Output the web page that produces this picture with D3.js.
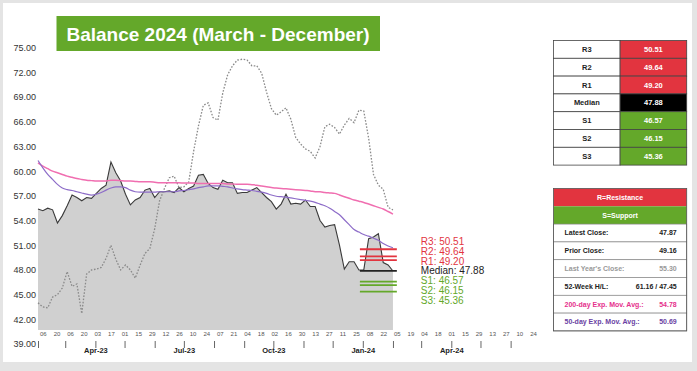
<!DOCTYPE html>
<html>
<head>
<meta charset="utf-8">
<script src="https://cdn.jsdelivr.net/npm/d3@7"></script>
<style>
  body { margin: 0; background: #fff; }
  svg { display: block; font-family: Arial, "Liberation Sans", sans-serif; }
</style>
</head>
<body>
<div id="chart"></div>
<script>
// Sample dates (every 5 days) shared by all series
const dates = [
  "2023-02-01","2023-02-06","2023-02-11","2023-02-16","2023-02-21","2023-02-26","2023-03-03","2023-03-08",
  "2023-03-13","2023-03-18","2023-03-23","2023-03-28","2023-04-02","2023-04-07","2023-04-12","2023-04-17",
  "2023-04-22","2023-04-27","2023-05-02","2023-05-07","2023-05-12","2023-05-17","2023-05-22","2023-05-27",
  "2023-06-01","2023-06-06","2023-06-11","2023-06-16","2023-06-21","2023-06-26","2023-07-01","2023-07-06",
  "2023-07-11","2023-07-16","2023-07-21","2023-07-26","2023-07-31","2023-08-05","2023-08-10","2023-08-15",
  "2023-08-20","2023-08-25","2023-08-30","2023-09-04","2023-09-09","2023-09-14","2023-09-19","2023-09-24",
  "2023-09-29","2023-10-04","2023-10-09","2023-10-14","2023-10-19","2023-10-24","2023-10-29","2023-11-03",
  "2023-11-08","2023-11-13","2023-11-18","2023-11-23","2023-11-28","2023-12-03","2023-12-08","2023-12-13",
  "2023-12-18","2023-12-23","2023-12-28","2024-01-02","2024-01-07","2024-01-12","2024-01-17","2024-01-22",
  "2024-01-27","2024-02-01"
];

// Current contract settlement
const price = [
  55.4, 55.2, 55.5, 55.3, 53.7, 54.6, 55.8, 57.1, 56.8, 56.4, 56.8, 56.7, 57.3, 57.9, 58.3, 61.1,
  59.8, 58.8, 57.2, 55.9, 56.5, 56.8, 57.7, 57.9, 56.8, 57.5, 57.5, 57.6, 57.4, 58.0, 57.5, 57.9,
  58.2, 59.5, 59.6, 58.5, 58.0, 57.8, 58.9, 58.6, 58.6, 57.3, 57.4, 57.4, 57.7, 58.0, 57.4, 56.8,
  56.3, 55.4, 56.0, 57.2, 56.0, 56.1, 56.0, 56.5, 55.7, 55.7, 54.0, 53.2, 53.4, 53.5, 51.0, 48.1,
  49.0, 49.0, 48.0, 48.0, 51.8, 52.0, 52.4, 48.9, 48.6, 47.87
];

// Last year's contract (dotted)
const lastYear = [
  44.0, 43.5, 43.4, 44.7, 45.0, 45.8, 47.8, 46.0, 46.3, 42.7, 47.5, 48.0, 48.1, 48.3, 49.4, 51.0,
  49.3, 48.0, 48.6, 48.0, 47.0, 48.6, 50.0, 50.6, 53.0, 56.4, 57.9, 59.2, 59.4, 58.0, 58.1, 58.7,
  62.4, 65.5, 68.0, 68.3, 66.5, 66.2, 69.5, 71.7, 72.8, 73.5, 73.6, 73.5, 72.8, 72.8, 71.9, 69.6,
  67.6, 66.8, 67.2, 67.7, 66.3, 64.1, 63.3, 62.7, 62.4, 61.6, 63.0, 65.4, 65.7, 65.3, 64.5, 65.6,
  66.4, 65.9, 67.4, 67.3, 64.0, 59.6, 58.3, 57.8, 55.6, 55.3
];

// 200-day exponential moving average (pink)
const ema200 = [
  61.0, 60.6, 60.3, 60.0, 59.8, 59.6, 59.4, 59.25, 59.1, 59.0, 58.9, 58.85, 58.8, 58.8, 58.8, 58.9,
  58.9, 58.85, 58.8, 58.8, 58.75, 58.7, 58.7, 58.7, 58.65, 58.6, 58.6, 58.6, 58.6, 58.6, 58.55, 58.55,
  58.55, 58.5, 58.5, 58.5, 58.5, 58.5, 58.5, 58.45, 58.45, 58.4, 58.4, 58.4, 58.35, 58.3, 58.2, 58.1,
  58.0, 57.95, 57.9, 57.85, 57.8, 57.75, 57.7, 57.65, 57.6, 57.5, 57.5, 57.4, 57.35, 57.3, 57.1, 56.9,
  56.7, 56.5, 56.35, 56.2, 56.0, 55.8, 55.6, 55.4, 55.1, 54.78
];

// 50-day exponential moving average (purple)
const ema50 = [
  61.3, 60.4, 59.6, 59.0, 58.4, 57.95, 57.75, 57.65, 57.5, 57.35, 57.2, 57.1, 57.2, 57.4, 57.7, 57.95,
  58.1, 58.1, 58.0, 57.7, 57.5, 57.45, 57.45, 57.45, 57.45, 57.5, 57.5, 57.5, 57.5, 57.6, 57.65, 57.75,
  57.85, 58.0, 58.1, 58.2, 58.2, 58.2, 58.15, 58.1, 57.95, 57.85, 57.75, 57.7, 57.65, 57.55, 57.45, 57.3,
  57.1, 56.95, 56.9, 56.85, 56.75, 56.65, 56.55, 56.45, 56.35, 56.2, 56.0, 55.8, 55.5, 55.1, 54.7, 54.1,
  53.5, 52.9, 52.6, 52.3, 52.1, 51.85, 51.6, 51.2, 50.9, 50.69
];

// Resistance / support levels
const levelNames = ["R3", "R2", "R1", "Median", "S1", "S2", "S3"];
const levelValues = [50.51, 49.64, 49.20, 47.88, 46.57, 46.15, 45.36];
const levelSpan = ["2023-12-29", "2024-02-05"];

// Stats table
const statLabels = ["Latest Close:", "Prior Close:", "Last Year's Close:", "52-Week H/L:",
  "200-day Exp. Mov. Avg.:", "50-day Exp. Mov. Avg.:"];
const statValues = ["47.87", "49.16", "55.30", "61.16 / 47.45", "54.78", "50.69"];

// Axis ticks
const yTicks = [75, 72, 69, 66, 63, 60, 57, 54, 51, 48, 45, 42, 39];
const dayTicks = [
  "2023-02-06","2023-02-20","2023-03-06","2023-03-20","2023-04-03","2023-04-17","2023-05-01","2023-05-15",
  "2023-05-29","2023-06-12","2023-06-26","2023-07-10","2023-07-24","2023-08-07","2023-08-21","2023-09-04",
  "2023-09-18","2023-10-02","2023-10-16","2023-10-30","2023-11-13","2023-11-27","2023-12-11","2023-12-25",
  "2024-01-08","2024-01-22","2024-02-05","2024-02-19","2024-03-04","2024-03-18","2024-04-01","2024-04-15",
  "2024-04-29","2024-05-13","2024-05-27","2024-06-10","2024-06-24"
];
const monthTicks = [
  "2023-02-01","2023-03-01","2023-04-01","2023-05-01","2023-06-01","2023-07-01","2023-08-01","2023-09-01",
  "2023-10-01","2023-11-01","2023-12-01","2024-01-01","2024-02-01","2024-03-01","2024-04-01","2024-05-01",
  "2024-06-01"
];
const monthLabels = ["Apr-23", "Jul-23", "Oct-23", "Jan-24", "Apr-24"];

const W = 697, H = 371;
const RED = "#e2343f", GREEN = "#64a82a", PINK = "#f06eb0", PURPLE = "#8d6cc8";
const parse = d3.timeParse("%Y-%m-%d");
const fmtMonth = d3.timeFormat("%b-%y");
const fmtDay = d3.timeFormat("%d");

const svg = d3.select("#chart").append("svg")
    .attr("width", W)
    .attr("height", H);

// Frame
svg.append("rect").attr("width", W).attr("height", H).attr("fill", "#e4e4e4");
svg.append("rect").attr("x", 3).attr("y", 3).attr("width", 689).attr("height", 359).attr("fill", "#fff");

// Scales
const x = d3.scaleTime()
    .domain([parse("2023-02-01"), parse("2024-07-01")])
    .range([38, 539.8]);

const y = d3.scaleLinear()
    .domain([39, 75])
    .range([344, 47.7]);

const plotBottom = 330;

const rows = dates.map((d, i) => ({
    date: parse(d), price: price[i], last: lastYear[i], e200: ema200[i], e50: ema50[i]
}));

// Price area
svg.append("path")
    .datum(rows)
    .attr("fill", "#d0d0d0")
    .attr("d", d3.area().x(d => x(d.date)).y0(plotBottom).y1(d => y(d.price)));

svg.append("path")
    .datum(rows)
    .attr("fill", "none")
    .attr("stroke", "#3a3a3a")
    .attr("stroke-width", 1.1)
    .attr("d", d3.line().x(d => x(d.date)).y(d => y(d.price)));

// Last year's contract
svg.append("path")
    .datum(rows)
    .attr("fill", "none")
    .attr("stroke", "#8a8a8a")
    .attr("stroke-width", 1.3)
    .attr("stroke-dasharray", "1.6,1.6")
    .attr("d", d3.line().x(d => x(d.date)).y(d => y(d.last)));

// Moving averages
svg.append("path")
    .datum(rows)
    .attr("fill", "none")
    .attr("stroke", PINK)
    .attr("stroke-width", 1.5)
    .attr("d", d3.line().curve(d3.curveMonotoneX).x(d => x(d.date)).y(d => y(d.e200)));

svg.append("path")
    .datum(rows)
    .attr("fill", "none")
    .attr("stroke", PURPLE)
    .attr("stroke-width", 1.2)
    .attr("d", d3.line().curve(d3.curveMonotoneX).x(d => x(d.date)).y(d => y(d.e50)));

// Resistance / support lines
const levelColor = name => name === "Median" ? "#222" : (name[0] === "R" ? RED : GREEN);
const levels = levelNames.map((name, i) => ({ name, value: levelValues[i] }));

svg.selectAll(".level")
    .data(levels)
    .enter()
    .append("line")
    .attr("class", "level")
    .attr("x1", x(parse(levelSpan[0])))
    .attr("x2", x(parse(levelSpan[1])))
    .attr("y1", d => y(d.value))
    .attr("y2", d => y(d.value))
    .attr("stroke", d => levelColor(d.name))
    .attr("stroke-width", 1.8);

const medianY = y(levelValues[3]);
svg.selectAll(".level-label")
    .data(levels)
    .enter()
    .append("text")
    .attr("class", "level-label")
    .attr("x", x(parse(levelSpan[1])) + 24)
    .attr("y", (d, i) => medianY + (i - 3) * 9.8)
    .attr("dy", "0.35em")
    .style("font-size", "10px")
    .style("fill", d => levelColor(d.name))
    .text(d => d.name + ": " + d.value.toFixed(2));

// Y axis
const yAxis = svg.append("g")
    .attr("transform", "translate(37,0)")
    .call(d3.axisLeft(y).tickValues(yTicks).tickSize(0).tickPadding(1).tickFormat(d3.format(".2f")));
yAxis.select(".domain").remove();
yAxis.selectAll("text").style("font-size", "9px").style("fill", "#333").style("font-family", "inherit");

// Day ticks (every other Monday)
const dayAxis = svg.append("g")
    .attr("transform", "translate(0,331)")
    .call(d3.axisBottom(x).tickValues(dayTicks.map(parse)).tickSize(0).tickPadding(1).tickFormat(fmtDay));
dayAxis.select(".domain").remove();
dayAxis.selectAll("text").style("font-size", "6px").style("fill", "#555").style("font-family", "inherit");

// Month ticks with quarterly labels
const monthAxis = svg.append("g")
    .attr("transform", "translate(0,341)")
    .call(d3.axisBottom(x).tickValues(monthTicks.map(parse)).tickSize(7).tickPadding(0)
        .tickFormat(d => monthLabels.includes(fmtMonth(d)) ? fmtMonth(d) : ""));
monthAxis.select(".domain").remove();
monthAxis.selectAll("line").attr("stroke", "#666");
monthAxis.selectAll("text")
    .style("font-size", "7.5px")
    .style("font-weight", "bold")
    .style("fill", "#222")
    .style("font-family", "inherit");

// Title
svg.append("rect")
    .attr("x", 56.5).attr("y", 16).attr("width", 323.5).attr("height", 35)
    .attr("fill", GREEN);
svg.append("text")
    .attr("x", 218).attr("y", 34)
    .attr("dy", "0.35em")
    .attr("text-anchor", "middle")
    .style("font-size", "19px")
    .style("font-weight", "bold")
    .style("fill", "#fff")
    .text("Balance 2024 (March - December)");

// Levels table
const tx = 553.5, colW = 66.6, rowH = 17.8;
const t1 = svg.append("g").attr("transform", `translate(${tx},40.5)`);
const t1Rows = t1.selectAll("g")
    .data(levels)
    .enter()
    .append("g")
    .attr("transform", (d, i) => `translate(0,${i * rowH})`);

t1Rows.append("rect")
    .attr("width", colW).attr("height", rowH)
    .attr("fill", "#fff").attr("stroke", "#444").attr("stroke-width", 0.8);
t1Rows.append("rect")
    .attr("x", colW).attr("width", colW).attr("height", rowH)
    .attr("fill", d => d.name === "Median" ? "#000" : levelColor(d.name))
    .attr("stroke", "#444").attr("stroke-width", 0.8);
t1Rows.append("text")
    .attr("x", colW / 2).attr("y", rowH / 2).attr("dy", "0.35em")
    .attr("text-anchor", "middle")
    .style("font-size", "7.5px").style("font-weight", "bold").style("fill", "#222")
    .text(d => d.name);
t1Rows.append("text")
    .attr("x", colW * 1.5).attr("y", rowH / 2).attr("dy", "0.35em")
    .attr("text-anchor", "middle")
    .style("font-size", "7.5px").style("font-weight", "bold").style("fill", "#fff")
    .text(d => d.value.toFixed(2));

// Legend + stats table
const t2 = svg.append("g").attr("transform", `translate(${tx},188.5)`);
const legendRows = [{ text: "R=Resistance", fill: RED }, { text: "S=Support", fill: GREEN }];
t2.selectAll(".legend-row")
    .data(legendRows)
    .enter()
    .append("rect")
    .attr("class", "legend-row")
    .attr("y", (d, i) => i * rowH)
    .attr("width", colW * 2).attr("height", rowH)
    .attr("fill", d => d.fill);
t2.selectAll(".legend-text")
    .data(legendRows)
    .enter()
    .append("text")
    .attr("class", "legend-text")
    .attr("x", colW).attr("y", (d, i) => i * rowH + rowH / 2).attr("dy", "0.35em")
    .attr("text-anchor", "middle")
    .style("font-size", "7px").style("font-weight", "bold").style("fill", "#fff")
    .text(d => d.text);

const statColors = ["#222", "#222", "#999", "#222", "#e5318c", "#6a3fa3"];
const stats = statLabels.map((label, i) => ({ label, value: statValues[i], color: statColors[i] }));
const t2Rows = t2.selectAll(".stat")
    .data(stats)
    .enter()
    .append("g")
    .attr("class", "stat")
    .attr("transform", (d, i) => `translate(0,${(i + 2) * rowH})`);
t2Rows.append("rect")
    .attr("width", colW * 2).attr("height", rowH)
    .attr("fill", "#fff").attr("stroke", "#888").attr("stroke-width", 0.7);
t2Rows.append("text")
    .attr("x", 11).attr("y", rowH / 2).attr("dy", "0.35em")
    .style("font-size", "7px").style("font-weight", "bold").style("fill", d => d.color)
    .text(d => d.label);
t2Rows.append("text")
    .attr("x", colW * 2 - 10).attr("y", rowH / 2).attr("dy", "0.35em")
    .attr("text-anchor", "end")
    .style("font-size", "7px").style("font-weight", "bold").style("fill", d => d.color)
    .text(d => d.value);

t2.append("rect")
    .attr("width", colW * 2).attr("height", rowH * 8)
    .attr("fill", "none").attr("stroke", "#555").attr("stroke-width", 0.8);
</script>
</body>
</html>
